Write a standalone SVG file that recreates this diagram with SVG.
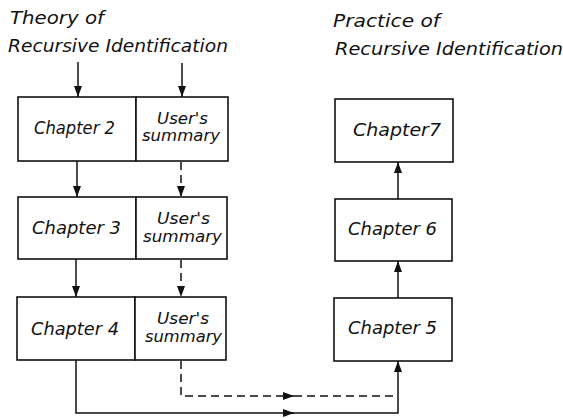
<svg xmlns="http://www.w3.org/2000/svg" width="563" height="418" viewBox="0 0 563 418">
<style>
.box{fill:#fff;stroke:#111;stroke-width:1.6}
.ln{fill:none;stroke:#111;stroke-width:1.5}
.dash{stroke-dasharray:8,5}
text{font-family:"DejaVu Sans","Liberation Sans",sans-serif;font-style:oblique;fill:#111;font-size:18px}
.t{font-size:18px}
.s{font-size:15px}
</style>
<defs>
<marker id="ah" markerUnits="userSpaceOnUse" markerWidth="11" markerHeight="8" refX="11" refY="4" orient="auto">
<path d="M0,0 L11,4 L0,8 z" fill="#111"/>
</marker>
</defs>
<rect width="563" height="418" fill="#fff"/>
<g id="title-theory">
<text class="t" x="10" y="24" textLength="94" lengthAdjust="spacingAndGlyphs">Theory of</text>
<text class="t" x="8" y="52" textLength="220" lengthAdjust="spacingAndGlyphs">Recursive Identification</text>
</g>
<g id="title-practice">
<text class="t" x="333" y="27" textLength="107" lengthAdjust="spacingAndGlyphs">Practice of</text>
<text class="t" x="335" y="55" textLength="228" lengthAdjust="spacingAndGlyphs">Recursive Identification</text>
</g>
<g id="ch2">
<rect class="box" x="18" y="97" width="118" height="64"/>
<text x="34" y="134" textLength="81" lengthAdjust="spacingAndGlyphs">Chapter 2</text>
</g>
<g id="sum2">
<rect class="box" x="136" y="97" width="92" height="64"/>
<text class="s" x="157" y="124" textLength="51" lengthAdjust="spacingAndGlyphs">User's</text>
<text class="s" x="142" y="141" textLength="78" lengthAdjust="spacingAndGlyphs">summary</text>
</g>
<g id="ch3">
<rect class="box" x="18" y="197" width="118" height="62"/>
<text x="32" y="234" textLength="89" lengthAdjust="spacingAndGlyphs">Chapter 3</text>
</g>
<g id="sum3">
<rect class="box" x="136" y="197" width="91" height="62"/>
<text class="s" x="157" y="224" textLength="53" lengthAdjust="spacingAndGlyphs">User's</text>
<text class="s" x="143" y="242" textLength="79" lengthAdjust="spacingAndGlyphs">summary</text>
</g>
<g id="ch4">
<rect class="box" x="17" y="297" width="118" height="63"/>
<text x="31" y="335" textLength="88" lengthAdjust="spacingAndGlyphs">Chapter 4</text>
</g>
<g id="sum4">
<rect class="box" x="135" y="297" width="91" height="63"/>
<text class="s" x="157" y="324" textLength="52" lengthAdjust="spacingAndGlyphs">User's</text>
<text class="s" x="145" y="342" textLength="77" lengthAdjust="spacingAndGlyphs">summary</text>
</g>
<g id="ch7">
<rect class="box" x="335" y="99" width="118" height="63"/>
<text x="353" y="136" textLength="88" lengthAdjust="spacingAndGlyphs">Chapter7</text>
</g>
<g id="ch6">
<rect class="box" x="335" y="199" width="117" height="62"/>
<text x="348" y="235" textLength="89" lengthAdjust="spacingAndGlyphs">Chapter 6</text>
</g>
<g id="ch5">
<rect class="box" x="334" y="298" width="118" height="63"/>
<text x="348" y="334" textLength="89" lengthAdjust="spacingAndGlyphs">Chapter 5</text>
</g>
<g id="connectors">
<path class="ln" d="M78,62 V97" marker-end="url(#ah)"/>
<path class="ln" d="M182,63 V97" marker-end="url(#ah)"/>
<path class="ln" d="M77,161 V197" marker-end="url(#ah)"/>
<path class="ln dash" d="M181,162 V197" marker-end="url(#ah)"/>
<path class="ln" d="M76,259 V297" marker-end="url(#ah)"/>
<path class="ln dash" d="M181,260 V297" marker-end="url(#ah)"/>
<path class="ln" d="M76,360 V413 H294" marker-end="url(#ah)"/>
<path class="ln" d="M290,413 H398 V361" marker-end="url(#ah)"/>
<path class="ln dash" d="M181,361 V396 H294" marker-end="url(#ah)"/>
<path class="ln dash" d="M294,396 H398"/>
<path class="ln" d="M398,298 V261" marker-end="url(#ah)"/>
<path class="ln" d="M398,199 V162" marker-end="url(#ah)"/>
</g>
</svg>
